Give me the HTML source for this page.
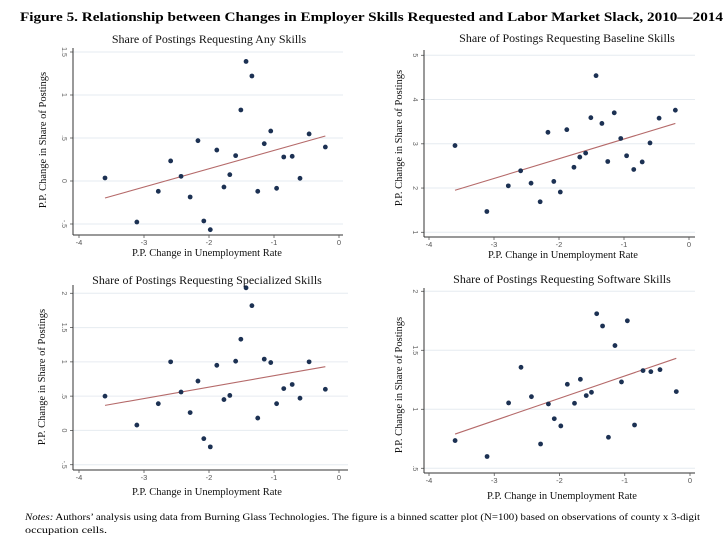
<!DOCTYPE html>
<html><head><meta charset="utf-8">
<style>
html,body{margin:0;padding:0;background:#fff;}
svg{display:block;font-family:"Liberation Serif",serif;}
</style></head>
<body>
<svg id="fig" width="725" height="545" viewBox="0 0 725 545" xmlns="http://www.w3.org/2000/svg">
<text x="20" y="21" font-size="13" font-weight="bold" textLength="703" lengthAdjust="spacingAndGlyphs">Figure 5.  Relationship between Changes in Employer Skills Requested and Labor Market Slack, 2010—2014</text>
<text x="25" y="520" font-size="9" textLength="675" lengthAdjust="spacingAndGlyphs"><tspan font-style="italic">Notes:</tspan>  Authors’ analysis using data from Burning Glass Technologies.  The figure is a binned scatter plot (N=100) based on observations of county x 3-digit</text>
<text x="25" y="533" font-size="9" textLength="82" lengthAdjust="spacingAndGlyphs">occupation cells.</text>
<g id="panels"></g>
</svg>
<script>
// Shared x values (P.P. change in unemployment rate, bin means)
const xVals = [-3.60,-3.11,-2.78,-2.59,-2.43,-2.29,-2.17,-2.08,-1.98,-1.88,-1.77,-1.68,-1.59,-1.51,-1.43,-1.34,-1.25,-1.15,-1.05,-0.96,-0.85,-0.72,-0.60,-0.46,-0.21];
const xTicks = [-4,-3,-2,-1,0];
const xTickLabels = ["-4","-3","-2","-1","0"];
// Panel 1: Any skills
const anyY = [0.035,-0.477,-0.12,0.233,0.054,-0.186,0.469,-0.465,-0.566,0.36,-0.07,0.074,0.295,0.826,1.39,1.221,-0.12,0.434,0.581,-0.085,0.279,0.287,0.031,0.547,0.395];
const anyFit = [-0.198,0.523];
const anyTicks = [-0.5,0,0.5,1,1.5];
const anyTickLabels = ["-.5","0",".5","1","1.5"];
// Panel 2: Baseline skills
const baseY = [2.96,1.47,2.05,2.39,2.11,1.69,3.26,2.15,1.91,3.32,2.47,2.70,2.79,3.59,4.54,3.46,2.60,3.70,3.12,2.73,2.42,2.59,3.02,3.58,3.76];
const baseFit = [1.95,3.46];
const baseTicks = [1,2,3,4,5];
const baseTickLabels = ["1","2","3","4","5"];
// Panel 3: Specialized skills
const specY = [0.50,0.078,0.39,1.00,0.56,0.26,0.72,-0.12,-0.24,0.95,0.45,0.51,1.01,1.33,2.08,1.82,0.18,1.04,0.99,0.39,0.61,0.67,0.47,1.00,0.60];
const specFit = [0.365,0.93];
const specTicks = [-0.5,0,0.5,1,1.5,2];
const specTickLabels = ["-.5","0",".5","1","1.5","2"];
// Panel 4: Software skills
const softY = [0.735,0.60,1.054,1.356,1.107,0.706,1.045,0.92,0.859,1.212,1.051,1.254,1.116,1.144,1.81,1.706,0.763,1.54,1.232,1.75,0.867,1.328,1.319,1.336,1.15];
const softFit = [0.79,1.432];
const softTicks = [0.5,1,1.5,2];
const softTickLabels = [".5","1","1.5","2"];
const fitX = [-3.60,-0.21];

const NS = "http://www.w3.org/2000/svg";
const root = document.getElementById('panels');
function mk(tag, attrs, parent){
  const e = document.createElementNS(NS, tag);
  for (const k in attrs) e.setAttribute(k, attrs[k]);
  parent.appendChild(e);
  return e;
}
function linmap(d0,d1,r0,r1){ return v => r0 + (v-d0)*(r1-r0)/(d1-d0); }

function panel(key, cfg, ys, fit, ticks, tickLabels){
  const g = mk('g', {}, root);
  
  
  const sx = linmap(-4, 0, cfg.x0, cfg.x1);
  const sy = linmap(cfg.yv0, cfg.yv1, cfg.yp0, cfg.yp1);
  ticks.forEach((t,i) => {
    const gl = mk('line', {x1:cfg.ax, x2:cfg.right, y1:sy(t), y2:sy(t), stroke:'#e6ebf0', 'stroke-width':1}, g);
    
    
    const tk = mk('line', {x1:cfg.ax-3, x2:cfg.ax, y1:sy(t), y2:sy(t), stroke:'#555', 'stroke-width':0.8}, g);
    
    
    const yy = sy(t);
    const lb = mk('text', {x:cfg.ax-9, y:yy, 'font-size':7, fill:'#666', 'font-family':'Liberation Sans, sans-serif', 'text-anchor':'middle', transform:`rotate(90 ${cfg.ax-9} ${yy})`, 'dominant-baseline':'middle'}, g);
    lb.textContent = tickLabels[i];
    
    
  });
  const ya = mk('line', {x1:cfg.ax, x2:cfg.ax, y1:cfg.top, y2:cfg.ay, stroke:'#333', 'stroke-width':1}, g);
  
  
  const xa = mk('line', {x1:cfg.ax, x2:cfg.right, y1:cfg.ay, y2:cfg.ay, stroke:'#333', 'stroke-width':1}, g);
  
  
  xTicks.forEach((t,i) => {
    const tk = mk('line', {x1:sx(t), x2:sx(t), y1:cfg.ay, y2:cfg.ay+3, stroke:'#555', 'stroke-width':0.8}, g);
    
    
    const lb = mk('text', {x:sx(t), y:cfg.ay+10, 'font-size':7.5, fill:'#555', 'font-family':'Liberation Sans, sans-serif', 'text-anchor':'middle'}, g);
    lb.textContent = xTickLabels[i];
    
    
  });
  const fl = mk('line', {x1:sx(fitX[0]), y1:sy(fit[0]), x2:sx(fitX[1]), y2:sy(fit[1]), stroke:'#b56a6a', 'stroke-width':1.1}, g);
  
  
  xVals.forEach((xv,i) => {
    const c = mk('circle', {cx:sx(xv), cy:sy(ys[i]), r:2.4, fill:'#1c3153'}, g);
    
    
  });
  const tt = mk('text', {x:cfg.tx, y:cfg.ty, 'font-size':12, 'text-anchor':'middle', fill:'#111'}, g);
  tt.textContent = cfg.title;
  
  
  const xt = mk('text', {x:cfg.xtx, y:cfg.xty, 'font-size':10.5, 'text-anchor':'middle', fill:'#111'}, g);
  xt.textContent = 'P.P. Change in Unemployment Rate';
  
  
  const yt = mk('text', {x:cfg.ytx, y:cfg.yty, 'font-size':10.5, 'text-anchor':'middle', fill:'#111', transform:`rotate(-90 ${cfg.ytx} ${cfg.yty})`}, g);
  yt.textContent = 'P.P. Change in Share of Postings';
  
  
}

panel('any', {ax:73, ay:235, top:48, right:343, x0:79, x1:339, yv0:1.5, yp0:52, yv1:-0.5, yp1:224,
  title:'Share of Postings Requesting Any Skills', tx:209, ty:43, xtx:207, xty:256, ytx:46, yty:140}, anyY, anyFit, anyTicks, anyTickLabels);
panel('baseline', {ax:424, ay:237, top:50, right:695, x0:429, x1:689, yv0:5, yp0:55.3, yv1:1, yp1:232.3,
  title:'Share of Postings Requesting Baseline Skills', tx:567, ty:42, xtx:563, xty:258, ytx:402, yty:138}, baseY, baseFit, baseTicks, baseTickLabels);
panel('specialized', {ax:73, ay:470, top:285, right:348, x0:79, x1:339, yv0:2, yp0:293.3, yv1:-0.5, yp1:464.7,
  title:'Share of Postings Requesting Specialized Skills', tx:207, ty:284, xtx:207, xty:495, ytx:45, yty:377}, specY, specFit, specTicks, specTickLabels);
panel('software', {ax:424, ay:473, top:288, right:695, x0:429, x1:690, yv0:2, yp0:291.3, yv1:0.5, yp1:468.3,
  title:'Share of Postings Requesting Software Skills', tx:562, ty:283, xtx:562, xty:499, ytx:402, yty:385}, softY, softFit, softTicks, softTickLabels);
</script>
</body></html>
